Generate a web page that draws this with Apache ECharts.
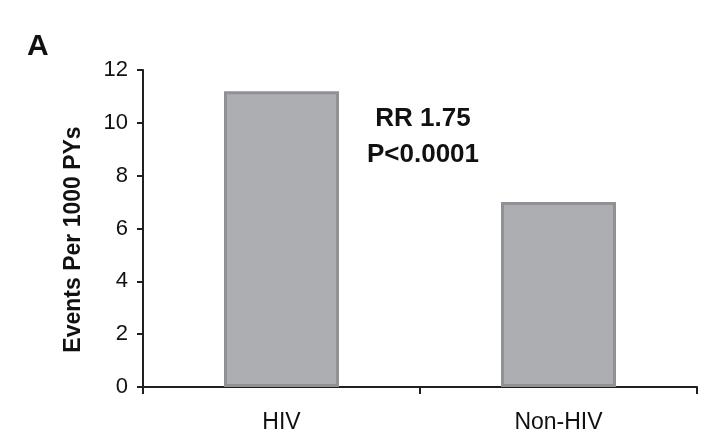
<!DOCTYPE html>
<html>
<head>
<meta charset="utf-8">
<script src="https://cdn.jsdelivr.net/npm/echarts@6/dist/echarts.min.js"></script>
<style>
html,body{margin:0;padding:0;background:#fff;}
#chart{width:727px;height:442px;}
</style>
</head>
<body>
<div id="chart"></div>
<script>
const categories = ["HIV", "Non-HIV"];
const values = [11.2, 7.0];
const yTicks = [0, 2, 4, 6, 8, 10, 12];
const panelLabel = "A";
const yTitle = "Events Per 1000 PYs";
const annotation = ["RR 1.75", "P<0.0001"];

const chart = echarts.init(document.getElementById('chart'));
const axisColor = '#231f20';
chart.setOption({
  animation: false,
  backgroundColor: '#ffffff',
  grid: { left: 143, right: 30, top: 70, bottom: 55 },
  xAxis: {
    type: 'category',
    data: categories,
    boundaryGap: true,
    axisLine: { lineStyle: { color: axisColor, width: 2 } },
    axisTick: { show: true, length: 7, lineStyle: { color: axisColor, width: 2 } },
    axisLabel: {
      margin: 24,
      fontFamily: '"Liberation Sans", Arial, sans-serif',
      fontSize: 23,
      color: '#111'
    }
  },
  yAxis: {
    type: 'value',
    min: yTicks[0],
    max: yTicks[yTicks.length - 1],
    interval: 2,
    name: yTitle,
    nameLocation: 'middle',
    nameGap: 58,
    nameTextStyle: {
      fontFamily: '"Liberation Sans", Arial, sans-serif',
      fontSize: 23,
      fontWeight: 'bold',
      color: '#111',
      padding: [0, 22, 0, 0]
    },
    splitLine: { show: false },
    axisLine: { show: true, lineStyle: { color: axisColor, width: 2 } },
    axisTick: { show: true, length: 6, lineStyle: { color: axisColor, width: 2 } },
    axisLabel: {
      margin: 15,
      fontFamily: '"Liberation Sans", Arial, sans-serif',
      fontSize: 22,
      color: '#111'
    }
  },
  graphic: [
    {
      type: 'text',
      left: 27,
      top: 32,
      style: {
        text: panelLabel,
        font: 'bold 30px "Liberation Sans", Arial, sans-serif',
        fill: '#111'
      }
    },
    {
      type: 'text',
      x: 423,
      y: 137,
      style: {
        text: annotation.join('\n'),
        font: 'bold 26px "Liberation Sans", Arial, sans-serif',
        fill: '#111',
        align: 'center',
        verticalAlign: 'middle',
        lineHeight: 36
      }
    }
  ],
  series: [{
    type: 'bar',
    data: values,
    barWidth: 115,
    itemStyle: {
      color: '#adaeb2',
      borderColor: '#909195',
      borderWidth: 3
    }
  }]
});
</script>
</body>
</html>
